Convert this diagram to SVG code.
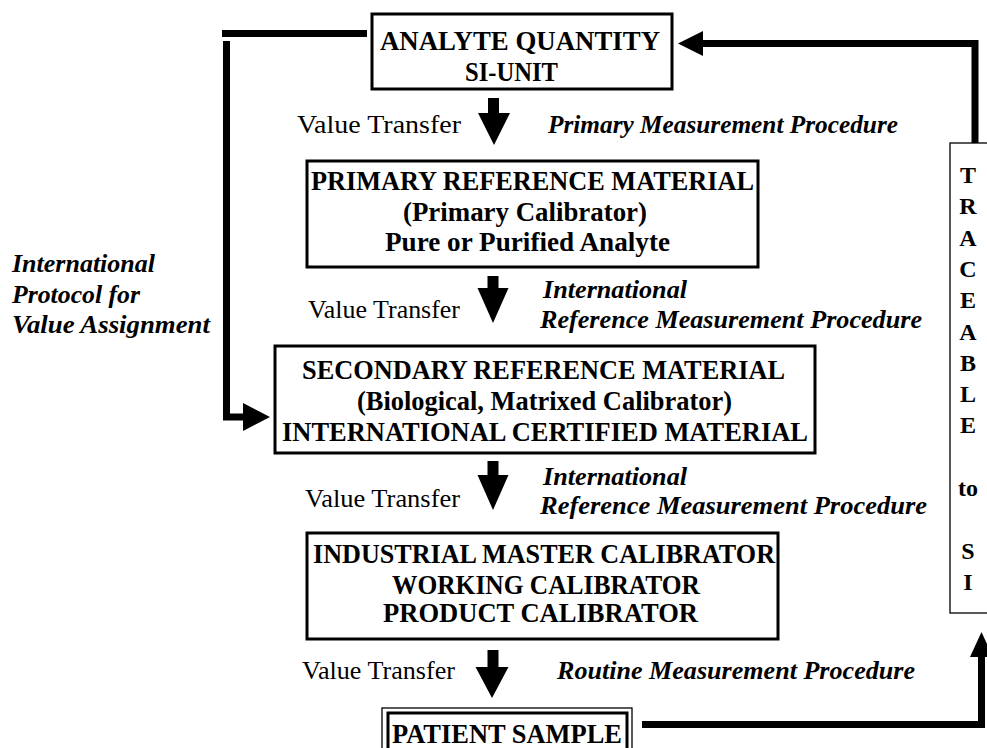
<svg xmlns="http://www.w3.org/2000/svg" width="987" height="748" viewBox="0 0 987 748">
<style>
  .box{fill:#fff;stroke:#000;stroke-width:3}
  .thin{fill:none;stroke:#000;stroke-width:1.3}
  .bt{font-family:"Liberation Serif","Times New Roman",serif;font-weight:bold;font-size:27px;fill:#000}
  .vt{font-family:"Liberation Serif","Times New Roman",serif;font-size:26px;fill:#000}
  .it{font-family:"Liberation Serif","Times New Roman",serif;font-weight:bold;font-style:italic;font-size:26px;fill:#000}
  .tr{font-family:"Liberation Serif","Times New Roman",serif;font-weight:bold;font-size:24px;fill:#000;text-anchor:middle}
  .ln{fill:none;stroke:#000;stroke-width:7;stroke-linejoin:miter}
  .ah{fill:#000;stroke:none}
</style>
<rect width="987" height="748" fill="#fff"/>

<g id="node-analyte">
  <rect class="box" x="372" y="14" width="300" height="75"/>
  <text class="bt" x="380" y="50" textLength="280" lengthAdjust="spacingAndGlyphs">ANALYTE QUANTITY</text>
  <text class="bt" x="465" y="81" textLength="93" lengthAdjust="spacingAndGlyphs">SI-UNIT</text>
</g>

<g id="node-primary">
  <rect class="box" x="307" y="161" width="451" height="106"/>
  <text class="bt" x="311" y="190" textLength="443" lengthAdjust="spacingAndGlyphs">PRIMARY REFERENCE MATERIAL</text>
  <text class="bt" x="403" y="221" textLength="244" lengthAdjust="spacingAndGlyphs">(Primary Calibrator)</text>
  <text class="bt" x="385" y="251" textLength="285" lengthAdjust="spacingAndGlyphs">Pure or Purified Analyte</text>
</g>

<g id="node-secondary">
  <rect class="box" x="275" y="346" width="540" height="107"/>
  <text class="bt" x="302" y="379" textLength="483" lengthAdjust="spacingAndGlyphs">SECONDARY REFERENCE MATERIAL</text>
  <text class="bt" x="357" y="410" textLength="375" lengthAdjust="spacingAndGlyphs">(Biological, Matrixed Calibrator)</text>
  <text class="bt" x="282" y="441" textLength="526" lengthAdjust="spacingAndGlyphs">INTERNATIONAL CERTIFIED MATERIAL</text>
</g>

<g id="node-industrial">
  <rect class="box" x="307" y="533" width="471" height="106"/>
  <text class="bt" x="313" y="563" textLength="462" lengthAdjust="spacingAndGlyphs">INDUSTRIAL MASTER CALIBRATOR</text>
  <text class="bt" x="392" y="594" textLength="308" lengthAdjust="spacingAndGlyphs">WORKING CALIBRATOR</text>
  <text class="bt" x="383" y="622" textLength="315" lengthAdjust="spacingAndGlyphs">PRODUCT CALIBRATOR</text>
</g>

<g id="node-patient">
  <rect class="thin" x="382" y="708" width="250" height="60"/>
  <rect class="box" x="388" y="713" width="239" height="50"/>
  <text class="bt" x="392" y="743" font-size="34" textLength="230" lengthAdjust="spacingAndGlyphs">PATIENT SAMPLE</text>
</g>

<g id="node-traceable">
  <rect class="thin" x="950" y="143" width="60" height="470"/>
  <text class="tr" x="968" y="183">T</text>
  <text class="tr" x="968" y="214">R</text>
  <text class="tr" x="968" y="246">A</text>
  <text class="tr" x="968" y="277">C</text>
  <text class="tr" x="968" y="308">E</text>
  <text class="tr" x="968" y="340">A</text>
  <text class="tr" x="968" y="371">B</text>
  <text class="tr" x="968" y="402">L</text>
  <text class="tr" x="968" y="433">E</text>
  <text class="tr" x="968" y="496">to</text>
  <text class="tr" x="968" y="559">S</text>
  <text class="tr" x="968" y="590">I</text>
</g>

<g id="labels">
  <text class="it" x="12" y="272" textLength="143" lengthAdjust="spacingAndGlyphs">International</text>
  <text class="it" x="12" y="303" textLength="128" lengthAdjust="spacingAndGlyphs">Protocol for</text>
  <text class="it" x="12" y="333" textLength="198" lengthAdjust="spacingAndGlyphs">Value Assignment</text>

  <text class="vt" x="297" y="133" textLength="164" lengthAdjust="spacingAndGlyphs">Value Transfer</text>
  <text class="vt" x="308" y="318" textLength="152" lengthAdjust="spacingAndGlyphs">Value Transfer</text>
  <text class="vt" x="305" y="507" textLength="155" lengthAdjust="spacingAndGlyphs">Value Transfer</text>
  <text class="vt" x="302" y="679" textLength="153" lengthAdjust="spacingAndGlyphs">Value Transfer</text>

  <text class="it" x="548" y="133" textLength="350" lengthAdjust="spacingAndGlyphs">Primary Measurement Procedure</text>
  <text class="it" x="543" y="298" textLength="144" lengthAdjust="spacingAndGlyphs">International</text>
  <text class="it" x="540" y="328" textLength="382" lengthAdjust="spacingAndGlyphs">Reference Measurement Procedure</text>
  <text class="it" x="543" y="485" textLength="144" lengthAdjust="spacingAndGlyphs">International</text>
  <text class="it" x="540" y="514" textLength="387" lengthAdjust="spacingAndGlyphs">Reference Measurement Procedure</text>
  <text class="it" x="557" y="679" textLength="358" lengthAdjust="spacingAndGlyphs">Routine Measurement Procedure</text>
</g>

<g id="connectors">
  <path class="ah" d="M488,98 H499 V113 H510 L494,145 L478,113 H488 Z"/>
  <path class="ah" d="M487.5,276 H498.5 V288 H508.5 L493,323 L477.5,288 H487.5 Z"/>
  <path class="ah" d="M487.5,461 H498.5 V475 H508.5 L493,510 L477.5,475 H487.5 Z"/>
  <path class="ah" d="M487.5,650 H498.5 V667 H508.5 L492,698 L475.5,667 H487.5 Z"/>

  <path class="ln" d="M222,33.5 H367"/>
  <path class="ln" d="M226.5,41 V417 H246"/>
  <path class="ah" d="M243,403 L270,417 L243,431 Z"/>

  <path class="ln" d="M975,143 V43.5 H700"/>
  <path class="ah" d="M703,31 L678,43.5 L703,56 Z"/>

  <path class="ln" d="M642,724.5 H981.5 V654"/>
  <path class="ah" d="M970,657 L981.5,632 L993,657 Z"/>
</g>
</svg>
